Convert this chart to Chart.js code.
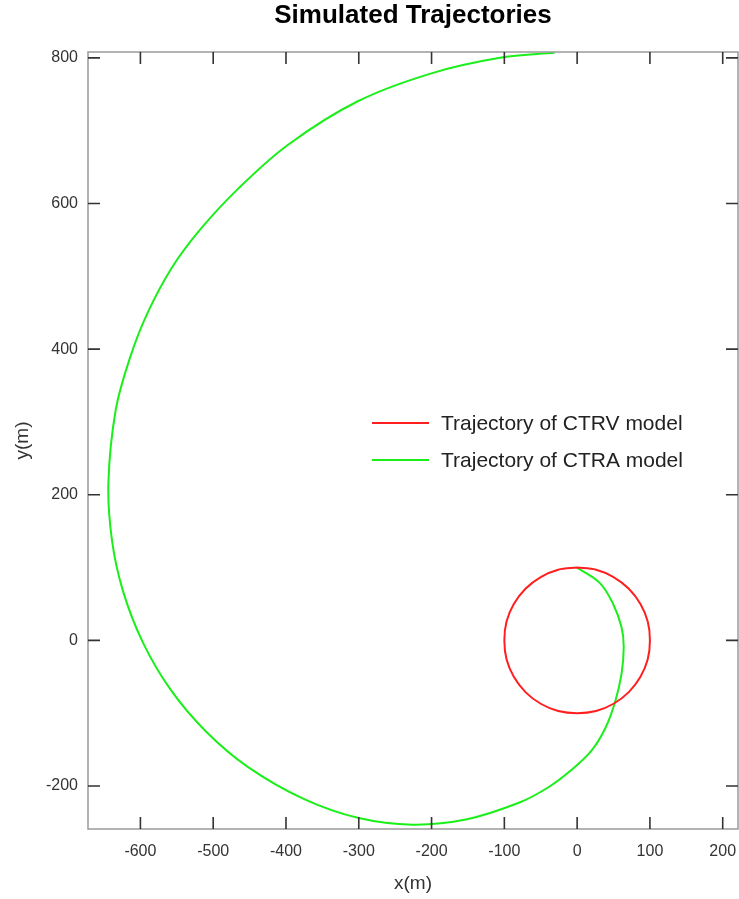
<!DOCTYPE html>
<html lang="en">
<head>
<meta charset="UTF-8" />
<title>Simulated Trajectories</title>
<script src="https://cdn.jsdelivr.net/npm/chart.js"></script>
<style>
  html, body { margin: 0; padding: 0; background: #fff; }
  canvas { display: block; }
</style>
</head>
<body>
<canvas id="traj" width="739" height="899"></canvas>
<script>
  // points (metres)
  const ctrvX = [0, 26, 50, 71, 87, 97, 100, 97, 87, 71, 50, 26, 0, -26, -50, -71, -87, -97, -100, -97, -87, -71, -50, -26, 0];
  const ctrvY = [100, 97, 87, 71, 50, 26, 0, -26, -50, -71, -87, -97, -100, -97, -87, -71, -50, -26, 0, 26, 50, 71, 87, 97, 100];

  const ctraX = [0, 31, 49, 61, 64, 61, 52, 39, 20, -8, -40, -80, -153, -226, -300, -375, -452, -511, -559, -597, -624, -639, -644, -634, -614, -590, -556, -518, -467, -398, -302, -199, -100, -31];
  const ctraY = [100, 79, 51, 18, -9, -46, -85, -120, -151, -178, -202, -223, -246, -253, -244, -218, -174, -124, -67, -2, 68, 137, 215, 316, 389, 450, 513, 564, 619, 680, 740, 779, 801, 807];

  const xTicks = [-600, -500, -400, -300, -200, -100, 0, 100, 200];
  const yTicks = [-200, 0, 200, 400, 600, 800];
  const seriesLabels = ['Trajectory of CTRV model', 'Trajectory of CTRA model'];
  const seriesColors = ['#ff1f1f', '#1aef1a'];

  const FONT = '"Liberation Sans", Arial, sans-serif';

  function toPoints(xs, ys) {
    return xs.map((v, i) => ({ x: v, y: ys[i] }));
  }

  // inward ticks on all four sides, grey frame, legend inside the plot
  const frameTicks = {
    id: 'frameTicks',
    afterDraw(chart) {
      const { ctx, chartArea: a, scales: { x, y } } = chart;
      const len = 12;
      ctx.save();

      ctx.strokeStyle = '#9a9a9a';
      ctx.lineWidth = 1.5;
      ctx.strokeRect(a.left, a.top, a.right - a.left, a.bottom - a.top);

      ctx.strokeStyle = '#333';
      ctx.lineWidth = 1.6;
      ctx.beginPath();
      xTicks.forEach(v => {
        const px = x.getPixelForValue(v);
        ctx.moveTo(px, a.bottom); ctx.lineTo(px, a.bottom - len);
        ctx.moveTo(px, a.top); ctx.lineTo(px, a.top + len);
      });
      yTicks.forEach(v => {
        const py = y.getPixelForValue(v);
        ctx.moveTo(a.left, py); ctx.lineTo(a.left + len, py);
        ctx.moveTo(a.right, py); ctx.lineTo(a.right - len, py);
      });
      ctx.stroke();

      // legend
      const lx = a.left + 284, ly = a.top + 371, gap = 37;
      ctx.font = '21px ' + FONT;
      ctx.textBaseline = 'middle';
      ctx.textAlign = 'left';
      chart.data.datasets.forEach((ds, i) => {
        const yy = ly + i * gap;
        ctx.strokeStyle = ds.borderColor;
        ctx.lineWidth = 2;
        ctx.beginPath();
        ctx.moveTo(lx, yy); ctx.lineTo(lx + 57, yy);
        ctx.stroke();
        ctx.fillStyle = '#222';
        ctx.fillText(ds.label, lx + 69, yy + 1);
      });
      ctx.restore();
    }
  };

  new Chart(document.getElementById('traj'), {
    type: 'line',
    data: {
      datasets: [
        {
          label: seriesLabels[0],
          data: toPoints(ctrvX, ctrvY),
          borderColor: seriesColors[0],
          borderWidth: 2,
          tension: 0.34,
          pointRadius: 0,
          fill: false
        },
        {
          label: seriesLabels[1],
          data: toPoints(ctraX, ctraY),
          borderColor: seriesColors[1],
          borderWidth: 2,
          tension: 0.36,
          pointRadius: 0,
          fill: false
        }
      ]
    },
    options: {
      responsive: false,
      animation: false,
      devicePixelRatio: 1,
      layout: { padding: { left: 0, right: 1, top: 0, bottom: 0 } },
      plugins: {
        legend: { display: false },
        tooltip: { enabled: false },
        title: {
          display: true,
          text: 'Simulated Trajectories',
          fullSize: false,
          color: '#000',
          font: { family: FONT, size: 26, weight: 'bold', lineHeight: 1 },
          padding: { top: 3, bottom: 23 }
        }
      },
      scales: {
        x: {
          type: 'linear',
          min: -672,
          max: 221,
          afterBuildTicks: s => { s.ticks = xTicks.map(v => ({ value: v })); },
          afterFit: s => { s.height = 70; s.paddingLeft = 0; s.paddingRight = 0; },
          grid: { display: false, drawTicks: false },
          border: { display: false },
          ticks: { color: '#333', padding: 13, maxRotation: 0, font: { family: FONT, size: 16 } },
          title: {
            display: true,
            text: 'x(m)',
            color: '#333',
            font: { family: FONT, size: 19 },
            padding: { top: 4, bottom: 4 }
          }
        },
        y: {
          type: 'linear',
          min: -259,
          max: 808,
          afterBuildTicks: s => { s.ticks = yTicks.map(v => ({ value: v })); },
          afterFit: s => { s.width = 88; },
          grid: { display: false, drawTicks: false },
          border: { display: false },
          ticks: { color: '#333', padding: 10, font: { family: FONT, size: 16 } },
          title: {
            display: true,
            text: 'y(m)',
            color: '#333',
            font: { family: FONT, size: 19 },
            padding: { top: 11, bottom: 4 }
          }
        }
      }
    },
    plugins: [frameTicks]
  });
</script>
</body>
</html>
